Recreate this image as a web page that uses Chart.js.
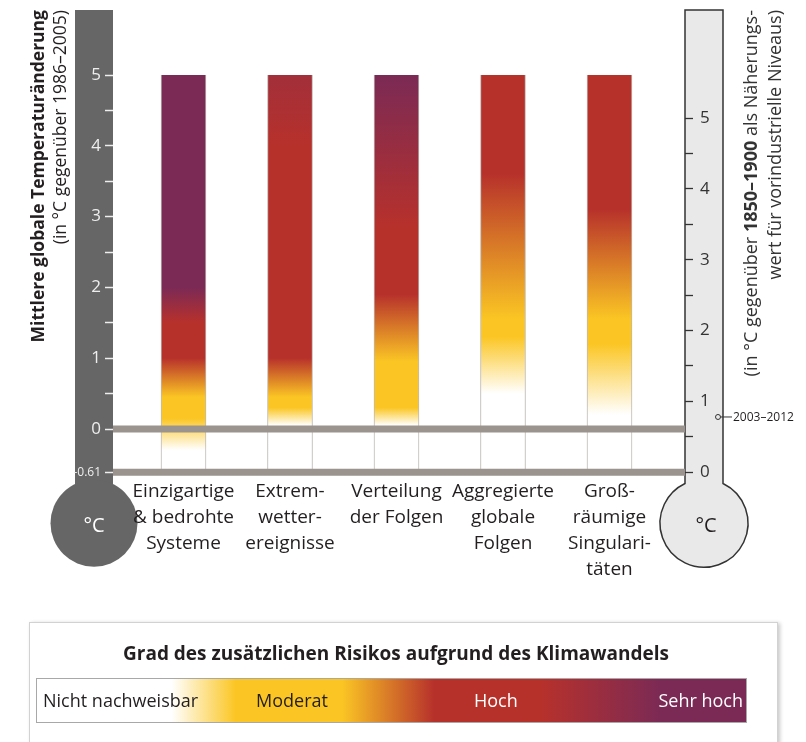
<!DOCTYPE html>
<html lang="de">
<head>
<meta charset="utf-8">
<title>Risiko durch Klimawandel</title>
<script src="https://cdn.jsdelivr.net/npm/chart.js@4.4.1/dist/chart.umd.min.js"></script>
<style>
  html, body { margin: 0; padding: 0; background: #fff; }
  body { position: relative; width: 806px; height: 742px; overflow: hidden; font-family: "Open Sans", sans-serif; color: #231f20; }
  #myChart { position: absolute; left: 0; top: 0; }
  .vtitle { position: absolute; width: 420px; top: 430px; transform-origin: 0 0; transform: rotate(-90deg);
            text-align: right; white-space: nowrap; }
  #leftTitle { left: 26px; font-size: 17.5px; line-height: 22px; }
  #rightTitle { left: 738px; color: #333; font-size: 18px; line-height: 24px; }
  .bulb { position: absolute; width: 50px; text-align: center; font-size: 20px; line-height: 26px; top: 512px; }
  #bulbLeft { left: 69px; color: #fff; }
  #bulbRight { left: 681px; color: #231f20; }
  #legendBox { position: absolute; left: 29px; top: 622px; width: 747px; height: 140px; background: #fff;
               border: 1px solid #d2d2d2; box-shadow: 2px 1px 4px rgba(0,0,0,0.22); }
  #legendTitle { position: absolute; left: 0; width: 792px; top: 640px; text-align: center;
                 font-size: 19px; line-height: 26px; font-weight: 700; color: #231f20; }
  #legendBar { position: absolute; left: 36px; top: 678px; width: 711px; height: 45px; box-sizing: border-box;
               border: 1px solid #a8a8a8; }
  #legendBar span { position: absolute; top: 0; line-height: 43px; font-size: 18px; white-space: nowrap; }
  .lg0 { left: 6px; color: #231f20; }
  .lg1 { left: 219px; color: #231f20; }
  .lg2 { left: 437px; color: #fff; }
  .lg3 { right: 3px; color: #fff; }
</style>
</head>
<body>
<canvas id="myChart" width="806" height="742"></canvas>

<div class="vtitle" id="leftTitle"><b>Mittlere globale Temperaturänderung</b><br>(in °C gegenüber 1986–2005)</div>
<div class="vtitle" id="rightTitle">(in °C gegenüber <b>1850–1900</b> als Näherungs-<br>wert für vorindustrielle Niveaus)</div>
<div class="bulb" id="bulbLeft">°C</div>
<div class="bulb" id="bulbRight">°C</div>

<div id="legendBox"></div>
<div id="legendTitle">Grad des zusätzlichen Risikos aufgrund des Klimawandels</div>
<div id="legendBar"></div>

<script>
//* DATA *//
let categories = [
  ['Einzigartige', '& bedrohte', 'Systeme'],
  ['Extrem-', 'wetter-', 'ereignisse'],
  ['Verteilung', 'der Folgen'],
  ['Aggregierte', 'globale', 'Folgen'],
  ['Groß-', 'räumige', 'Singulari-', 'täten']
];
let barPositions = [1, 2, 3, 4, 5];
let barBase = -0.61;              // vorindustrielles Niveau (linke Skala)
let barTop = [5, 5, 5, 5, 5];

// risk level along each bar: [°C (linke Skala), Stufe 0..3]
let riskStops = [
  [[-0.3, 0], [0.15, 1], [0.45, 1], [1.0, 2], [1.5, 2], [2.0, 3], [5, 3]],
  [[0.05, 0], [0.3, 1], [0.45, 1], [1.0, 2], [4.0, 2], [5, 2.35]],
  [[0.05, 0], [0.3, 1], [0.95, 1], [1.9, 2], [2.85, 2], [5, 3]],
  [[0.5, 0], [1.3, 1], [1.55, 1], [3.6, 2], [5, 2]],
  [[0.2, 0], [1.2, 1], [1.55, 1], [3.1, 2], [5, 2]]
];
let riskColors = ['#ffffff', '#fbc624', '#b7312b', '#7b2a55'];
let riskLabels = ['Nicht nachweisbar', 'Moderat', 'Hoch', 'Sehr hoch'];
// legend gradient: [Anteil der Breite, Stufe]
let legendStops = [[0.19, 0], [0.28, 1], [0.43, 1], [0.56, 2], [0.71, 2], [0.88, 3]];

let leftTickValues = [-0.61, 0, 0.5, 1, 1.5, 2, 2.5, 3, 3.5, 4, 4.5, 5];
let leftTickLabels = ['-0.61', '0', '', '1', '', '2', '', '3', '', '4', '', '5'];
let rightTickValues = [0, 0.5, 1, 1.5, 2, 2.5, 3, 3.5, 4, 4.5, 5];
let rightTickLabels = ['0', '', '1', '', '2', '', '3', '', '4', '', '5'];
let refLines = [0, -0.61];        // linke Skala
let obsLabel = '2003–2012';
let obsValue = 0.78;              // rechte Skala

//* HELPERS *//
function hexToRgb(h) {
  return [parseInt(h.slice(1, 3), 16), parseInt(h.slice(3, 5), 16), parseInt(h.slice(5, 7), 16)];
}

function levelColor(level) {
  let i = Math.min(Math.floor(level), riskColors.length - 2);
  let t = level - i;
  let a = hexToRgb(riskColors[i]);
  let b = hexToRgb(riskColors[i + 1]);
  let c = a.map((v, k) => Math.round(v + (b[k] - v) * t));
  return `rgb(${c[0]},${c[1]},${c[2]})`;
}

function barGradient(context) {
  let chart = context.chart;
  if (!chart.chartArea || context.dataIndex === undefined) return '#ffffff';
  let yScale = chart.scales.y;
  let top = barTop[context.dataIndex];
  let y0 = yScale.getPixelForValue(barBase);
  let y1 = yScale.getPixelForValue(top);
  let g = chart.ctx.createLinearGradient(0, y0, 0, y1);
  riskStops[context.dataIndex].forEach(s => {
    let t = Math.max(0, Math.min(1, (s[0] - barBase) / (top - barBase)));
    g.addColorStop(t, levelColor(s[1]));
  });
  return g;
}

//* PLUGIN: thermometers, reference lines, observed marker *//
const thermoPlugin = {
  id: 'thermo',
  beforeDraw(chart) {
    let ctx = chart.ctx;
    let area = chart.chartArea;
    let tubeW = 38, r = 44, top = 10;
    let cy = area.bottom + 51;
    ctx.save();
    // left (dark)
    ctx.fillStyle = '#666666';
    ctx.fillRect(area.left - tubeW, top, tubeW, cy - top);
    ctx.beginPath();
    ctx.arc(area.left - tubeW / 2, cy, r - 0.5, 0, Math.PI * 2);
    ctx.fill();
    // right (light with outline)
    let cx = area.right + tubeW / 2;
    let a = Math.asin((tubeW / 2) / r);
    let dy = Math.sqrt(r * r - tubeW * tubeW / 4);
    ctx.beginPath();
    ctx.moveTo(area.right, cy - dy);
    ctx.lineTo(area.right, top);
    ctx.lineTo(area.right + tubeW, top);
    ctx.lineTo(area.right + tubeW, cy - dy);
    ctx.arc(cx, cy, r, -Math.PI / 2 + a, 3 * Math.PI / 2 - a);
    ctx.closePath();
    ctx.fillStyle = '#e9e9e9';
    ctx.fill();
    ctx.strokeStyle = '#333333';
    ctx.lineWidth = 1.5;
    ctx.stroke();
    ctx.restore();
  },
  afterDatasetsDraw(chart) {
    let ctx = chart.ctx;
    let area = chart.chartArea;
    ctx.save();
    ctx.strokeStyle = '#9b938e';
    ctx.lineWidth = 7;
    refLines.forEach(v => {
      let py = chart.scales.y.getPixelForValue(v);
      ctx.beginPath();
      ctx.moveTo(area.left, py);
      ctx.lineTo(area.right, py);
      ctx.stroke();
    });
    ctx.restore();
  },
  afterDraw(chart) {
    let ctx = chart.ctx;
    let area = chart.chartArea;
    let py = chart.scales.y2.getPixelForValue(obsValue);
    let px = area.right + 33;
    ctx.save();
    ctx.strokeStyle = '#333333';
    ctx.lineWidth = 1;
    ctx.beginPath();
    ctx.moveTo(px + 2.5, py);
    ctx.lineTo(px + 14, py);
    ctx.stroke();
    ctx.beginPath();
    ctx.arc(px, py, 2.5, 0, Math.PI * 2);
    ctx.fillStyle = '#e9e9e9';
    ctx.fill();
    ctx.stroke();
    ctx.fillStyle = '#231f20';
    ctx.font = '12px "Open Sans", sans-serif';
    ctx.textBaseline = 'middle';
    ctx.fillText(obsLabel, px + 15, py + 0.5);
    ctx.restore();
  }
};

//* CHART *//
let ctx = document.getElementById('myChart');

new Chart(ctx, {
  type: 'bar',
  data: {
    datasets: [{
      data: barPositions.map((x, i) => ({ x: x, y: [barBase, barTop[i]] })),
      backgroundColor: barGradient,
      borderColor: '#bdb8b4',
      borderWidth: { left: 1, right: 1, top: 0, bottom: 0 },
      borderSkipped: false,
      barThickness: 45
    }]
  },
  options: {
    responsive: false,
    animation: false,
    devicePixelRatio: 1,
    layout: { padding: { top: 39.6, left: 0, right: 0, bottom: 0 } },
    plugins: { legend: { display: false }, tooltip: { enabled: false } },
    scales: {
      x: {
        type: 'linear',
        offset: false,
        min: 0.338,
        max: 5.709,
        grid: { display: false, drawTicks: false, offset: false },
        border: { display: false },
        afterBuildTicks: (s) => { s.ticks = barPositions.map(v => ({ value: v })); },
        afterFit: (s) => { s.height = 269.8; },
        ticks: {
          autoSkip: false,
          maxRotation: 0,
          padding: 6,
          color: '#231f20',
          font: { family: '"Open Sans", sans-serif', size: 19, lineHeight: 1.37 },
          callback: (v) => categories[barPositions.indexOf(v)]
        }
      },
      y: {
        position: 'left',
        min: barBase,
        max: 5.5,
        afterBuildTicks: (s) => { s.ticks = leftTickValues.map(v => ({ value: v })); },
        afterFit: (s) => { s.width = 113; },
        border: { display: false },
        grid: { drawOnChartArea: false, drawTicks: true, tickLength: 8, tickColor: '#eeeeee', tickWidth: 1.5 },
        ticks: {
          padding: 4,
          color: '#eeeeee',
          font: (c) => ({ family: '"Open Sans", sans-serif', size: (c.tick && c.tick.value < 0) ? 12 : 17 }),
          callback: (v, i) => leftTickLabels[i]
        }
      },
      y2: {
        position: 'right',
        min: 0,
        max: 5.5 - barBase,
        afterBuildTicks: (s) => { s.ticks = rightTickValues.map(v => ({ value: v })); },
        afterFit: (s) => { s.width = 121; },
        border: { display: false },
        grid: { drawOnChartArea: false, drawTicks: true, tickLength: 8, tickColor: '#333333', tickWidth: 1.3 },
        ticks: {
          padding: 7,
          color: '#333333',
          font: { family: '"Open Sans", sans-serif', size: 17 },
          callback: (v, i) => rightTickLabels[i]
        }
      }
    }
  },
  plugins: [thermoPlugin]
});

//* LEGEND *//
let legendBar = document.getElementById('legendBar');
let gradParts = legendStops.map(s => `${levelColor(s[1])} ${(s[0] * 100).toFixed(1)}%`);
legendBar.style.background = `linear-gradient(to right, ${gradParts.join(', ')})`;
riskLabels.forEach((label, i) => {
  let span = document.createElement('span');
  span.className = 'lg' + i;
  span.textContent = label;
  legendBar.appendChild(span);
});
</script>
</body>
</html>
